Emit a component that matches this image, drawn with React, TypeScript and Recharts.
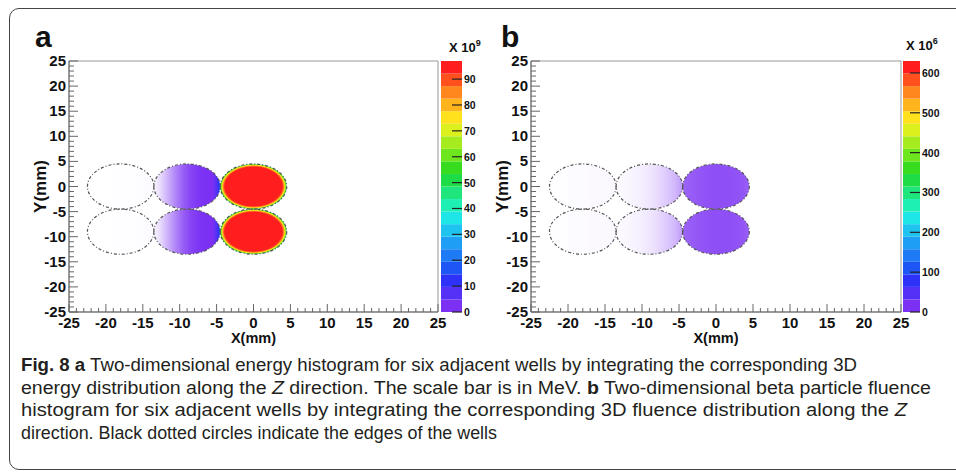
import React from 'react';
import { ScatterChart, ComposedChart, Scatter, XAxis, YAxis, ReferenceArea } from 'recharts';

// axis ticks in mm (minor every 1 mm, labelled every 5 mm)
const axisTicks = Array.from({ length: 51 }, (_, i) => i - 25);
const majorTicks = [-25, -20, -15, -10, -5, 0, 5, 10, 15, 20, 25];

// six wells: 3 columns x 2 rows, radius in mm
const wellCentersX = [-18, -9, 0];
const wellCentersY = [0, -9];
const wellRadius = 4.5;

// colour bar bands, bottom to top
const paletteColors = [
  '#7b30f4', '#5530f6', '#2e32f8', '#1e55f5', '#1e7af5',
  '#1e9ef5', '#1ec3f0', '#1ee6e6', '#1ef0b4', '#1ee67d',
  '#1edc46', '#37dc1e', '#6ee61e', '#a5eb1e', '#dcf01e',
  '#ffe11e', '#ffb41e', '#ff871e', '#ff501e', '#ff1e1e',
];

const energyMax = 97; // x 10^9 MeV
const energyTicks = [0, 10, 20, 30, 40, 50, 60, 70, 80, 90];
const fluenceMax = 630; // x 10^6
const fluenceTicks = [0, 100, 200, 300, 400, 500, 600];

// horizontal profile across a well, mm from its centre
const profileX = [-4.5, -3.5, -2.5, -1.5, -0.5, 0.5, 1.5, 2.5, 3.5, 4.0, 4.3, 4.5];

// energy (panel a)
const energyLeftValue = [1, 1, 1, 1, 1, 1, 1, 1, 1, 1, 1, 1];
const energyLeftFill = [0, 0, 0, 0, 0.01, 0.01, 0.01, 0.01, 0.02, 0.02, 0.02, 0.02];
const energyMidValue = [1, 1, 2, 2, 3, 3, 3, 4, 4, 8, 13, 20];
const energyMidFill = [0.05, 0.2, 0.4, 0.6, 0.78, 0.9, 0.97, 1, 1, 1, 1, 1];
// radial profile of the source well, mm from centre
const rimR = [0, 2.0, 3.6, 3.9, 4.1, 4.25, 4.38, 4.5];
const energyHotValue = [97, 97, 96, 93, 86, 76, 62, 50];

// fluence (panel b)
const fluenceLeftValue = [5, 5, 5, 5, 5, 5, 5, 5, 5, 5, 5, 5];
const fluenceLeftFill = [0.01, 0.01, 0.01, 0.02, 0.02, 0.02, 0.03, 0.03, 0.03, 0.04, 0.04, 0.04];
const fluenceMidValue = [10, 10, 10, 10, 10, 10, 10, 10, 10, 10, 10, 10];
const fluenceMidFill = [0.02, 0.03, 0.05, 0.07, 0.1, 0.14, 0.2, 0.27, 0.35, 0.42, 0.46, 0.5];
const fluenceHotValue = [20, 20, 20, 20, 20, 20, 20, 20, 20, 20, 20, 20];
const fluenceHotFill = [0.74, 0.78, 0.81, 0.83, 0.85, 0.85, 0.85, 0.84, 0.82, 0.8, 0.78, 0.75];

const FONT = "'Liberation Sans', Arial, Helvetica, sans-serif";
const wellPoints = wellCentersX.flatMap((x) => wellCentersY.map((y) => ({ x, y })));

function bandColor(v: number, max: number) {
  if (v <= 0) return '#ffffff';
  const i = Math.min(paletteColors.length - 1, Math.floor((v / max) * paletteColors.length));
  return paletteColors[i];
}

function HGradient({ id, values, fills, max }: { id: string; values: number[]; fills: number[]; max: number }) {
  return (
    <linearGradient id={id} x1="0" y1="0" x2="1" y2="0">
      {profileX.map((px, i) => (
        <stop key={i} offset={(px + wellRadius) / (2 * wellRadius)} stopColor={bandColor(values[i], max)} stopOpacity={fills[i]} />
      ))}
    </linearGradient>
  );
}

function RGradient({ id, values, max }: { id: string; values: number[]; max: number }) {
  return (
    <radialGradient id={id} cx="0.5" cy="0.5" r="0.5">
      {rimR.map((r, i) => (
        <stop key={i} offset={r / wellRadius} stopColor={bandColor(values[i], max)} stopOpacity={1} />
      ))}
    </radialGradient>
  );
}

const ellipse = (fill: string, ring: boolean) => (props: any) => {
  const { x, y, width, height } = props;
  return (
    <ellipse
      cx={x + width / 2}
      cy={y + height / 2}
      rx={width / 2}
      ry={height / 2}
      fill={ring ? 'none' : fill}
      stroke={ring ? '#555' : 'none'}
      strokeWidth={ring ? 1.2 : 0}
      strokeDasharray={ring ? '3 2 1 2' : undefined}
    />
  );
};

const XTick = (props: any) => {
  const { x, y, payload } = props;
  const major = majorTicks.includes(payload.value);
  return (
    <g>
      <line x1={x} y1={y} x2={x} y2={y - (major ? 8 : 4)} stroke="#666" />
      {major && (
        <text x={x} y={y + 16} textAnchor="middle" fontSize={15} fontWeight="bold" fill="#111" fontFamily={FONT}>
          {payload.value}
        </text>
      )}
    </g>
  );
};

const YTick = (props: any) => {
  const { x, y, payload } = props;
  const major = majorTicks.includes(payload.value);
  return (
    <g>
      <line x1={x} y1={y} x2={x + (major ? 9 : 5)} y2={y} stroke="#666" />
      {major && (
        <text x={x - 3} y={y + 5} textAnchor="end" fontSize={15} fontWeight="bold" fill="#111" fontFamily={FONT}>
          {payload.value}
        </text>
      )}
    </g>
  );
};

const CbTick = (props: any) => {
  const { x, y, payload } = props;
  return (
    <g>
      <line x1={x - 10} y1={y} x2={x} y2={y} stroke="#222" strokeWidth={1.2} />
      <text x={x + 2} y={y + 4} fontSize={10.5} fontWeight="bold" fill="#111" fontFamily={FONT}>
        {payload.value}
      </text>
    </g>
  );
};

function Panel({ left, rightMargin, prefix }: { left: number; rightMargin: number; prefix: string }) {
  return (
    <div style={{ position: 'absolute', left, top: 0 }}>
      <ScatterChart width={470} height={350} margin={{ top: 61, right: rightMargin, bottom: 8, left: 29 }}>
        <XAxis
          type="number"
          dataKey="x"
          domain={[-25, 25]}
          ticks={axisTicks}
          interval={0}
          tickSize={0}
          tickMargin={0}
          tickLine={false}
          tick={<XTick />}
          axisLine={{ stroke: '#666' }}
          height={30}
          allowDataOverflow
          label={{ value: 'X(mm)', position: 'insideBottom', offset: -1, fontSize: 14.5, fontWeight: 'bold', fill: '#111', fontFamily: FONT }}
        />
        <YAxis
          type="number"
          dataKey="y"
          domain={[-25, 25]}
          ticks={axisTicks}
          interval={0}
          tickSize={0}
          tickMargin={0}
          tickLine={false}
          tick={<YTick />}
          axisLine={{ stroke: '#666' }}
          width={40}
          allowDataOverflow
          label={{ value: 'Y(mm)', angle: -90, position: 'insideLeft', offset: 11, fontSize: 17, fontWeight: 'bold', fill: '#111', fontFamily: FONT, style: { textAnchor: 'middle' } }}
        />
        <ReferenceArea x1={-25} x2={25} y1={-25} y2={25} fill="none" fillOpacity={0} stroke="#999" />
        {wellCentersX.map((cx, c) =>
          wellCentersY.map((cy) => (
            <ReferenceArea
              key={`f${c}${cy}`}
              x1={cx - wellRadius}
              x2={cx + wellRadius}
              y1={cy - wellRadius}
              y2={cy + wellRadius}
              shape={ellipse(`url(#${prefix}${c})`, false)}
            />
          ))
        )}
        {wellPoints.map((p, i) => (
          <ReferenceArea
            key={`r${i}`}
            x1={p.x - wellRadius}
            x2={p.x + wellRadius}
            y1={p.y - wellRadius}
            y2={p.y + wellRadius}
            shape={ellipse('none', true)}
          />
        ))}
        <Scatter data={wellPoints} isAnimationActive={false} shape={() => <g />} />
      </ScatterChart>
    </div>
  );
}

function ColorBar({ left, width, max, ticks }: { left: number; width: number; max: number; ticks: number[] }) {
  const step = max / paletteColors.length;
  return (
    <div style={{ position: 'absolute', left, top: 0 }}>
      <ComposedChart width={width} height={350} margin={{ top: 61, right: 0, bottom: 38, left: 11 }} data={[{ x: 0 }, { x: 1 }]}>
        <XAxis type="number" dataKey="x" domain={[0, 1]} hide />
        <YAxis
          type="number"
          orientation="right"
          domain={[0, max]}
          ticks={ticks}
          interval={0}
          tickSize={0}
          tickMargin={0}
          tickLine={false}
          axisLine={false}
          tick={<CbTick />}
          width={30}
          allowDataOverflow
        />
        {paletteColors.map((c, i) => (
          <ReferenceArea key={i} x1={0} x2={1} y1={i * step} y2={(i + 1) * step} fill={c} fillOpacity={1} stroke="none" />
        ))}
      </ComposedChart>
    </div>
  );
}

export default function App() {
  const capFont = "'Liberation Sans Narrow', 'Liberation Sans', Arial, sans-serif";
  return (
    <div style={{ position: 'absolute', left: 0, top: 0, width: 956, height: 474, background: '#fff', overflow: 'hidden', fontFamily: FONT }}>
      <div
        style={{
          position: 'absolute',
          left: 9,
          top: 8,
          width: 1000,
          height: 462,
          border: '1.5px solid #444',
          borderRadius: 10,
          boxSizing: 'border-box',
        }}
      />
      <svg width={0} height={0} style={{ position: 'absolute' }}>
        <defs>
          <HGradient id="a0" values={energyLeftValue} fills={energyLeftFill} max={energyMax} />
          <HGradient id="a1" values={energyMidValue} fills={energyMidFill} max={energyMax} />
          <RGradient id="a2" values={energyHotValue} max={energyMax} />
          <HGradient id="b0" values={fluenceLeftValue} fills={fluenceLeftFill} max={fluenceMax} />
          <HGradient id="b1" values={fluenceMidValue} fills={fluenceMidFill} max={fluenceMax} />
          <HGradient id="b2" values={fluenceHotValue} fills={fluenceHotFill} max={fluenceMax} />
        </defs>
      </svg>
      <Panel left={0} rightMargin={32} prefix="a" />
      <ColorBar left={430} width={62} max={energyMax} ticks={energyTicks} />
      <Panel left={462} rightMargin={31} prefix="b" />
      <ColorBar left={892} width={58} max={fluenceMax} ticks={fluenceTicks} />
      <svg width={956} height={474} style={{ position: 'absolute', left: 0, top: 0, pointerEvents: 'none' }}>
        <g fontFamily={FONT} fontWeight="bold" fill="#111">
          <text x={35} y={47} fontSize={30}>a</text>
          <text x={501} y={47} fontSize={30}>b</text>
          <text x={449} y={52} fontSize={13}>
            X 10<tspan dy={-6} fontSize={9}>9</tspan>
          </text>
          <text x={906} y={50} fontSize={13}>
            X 10<tspan dy={-6} fontSize={9}>6</tspan>
          </text>
        </g>
        <g fontFamily={capFont} fontSize={17.5} fill="#231f20">
          <text x={21} y={371} textLength={836} lengthAdjust="spacingAndGlyphs">
            <tspan fontWeight="bold">Fig. 8</tspan>{'  '}
            <tspan fontWeight="bold">a</tspan>
            {' Two-dimensional energy histogram for six adjacent wells by integrating the corresponding 3D'}
          </text>
          <text x={21} y={393.5} textLength={910} lengthAdjust="spacingAndGlyphs">
            {'energy distribution along the '}
            <tspan fontStyle="italic">Z</tspan>
            {' direction. The scale bar is in MeV. '}
            <tspan fontWeight="bold">b</tspan>
            {' Two-dimensional beta particle fluence'}
          </text>
          <text x={21} y={416} textLength={886} lengthAdjust="spacingAndGlyphs">
            {'histogram for six adjacent wells by integrating the corresponding 3D fluence distribution along the '}
            <tspan fontStyle="italic">Z</tspan>
          </text>
          <text x={21} y={438.5} textLength={476} lengthAdjust="spacingAndGlyphs">
            {'direction. Black dotted circles indicate the edges of the wells'}
          </text>
        </g>
      </svg>
    </div>
  );
}
